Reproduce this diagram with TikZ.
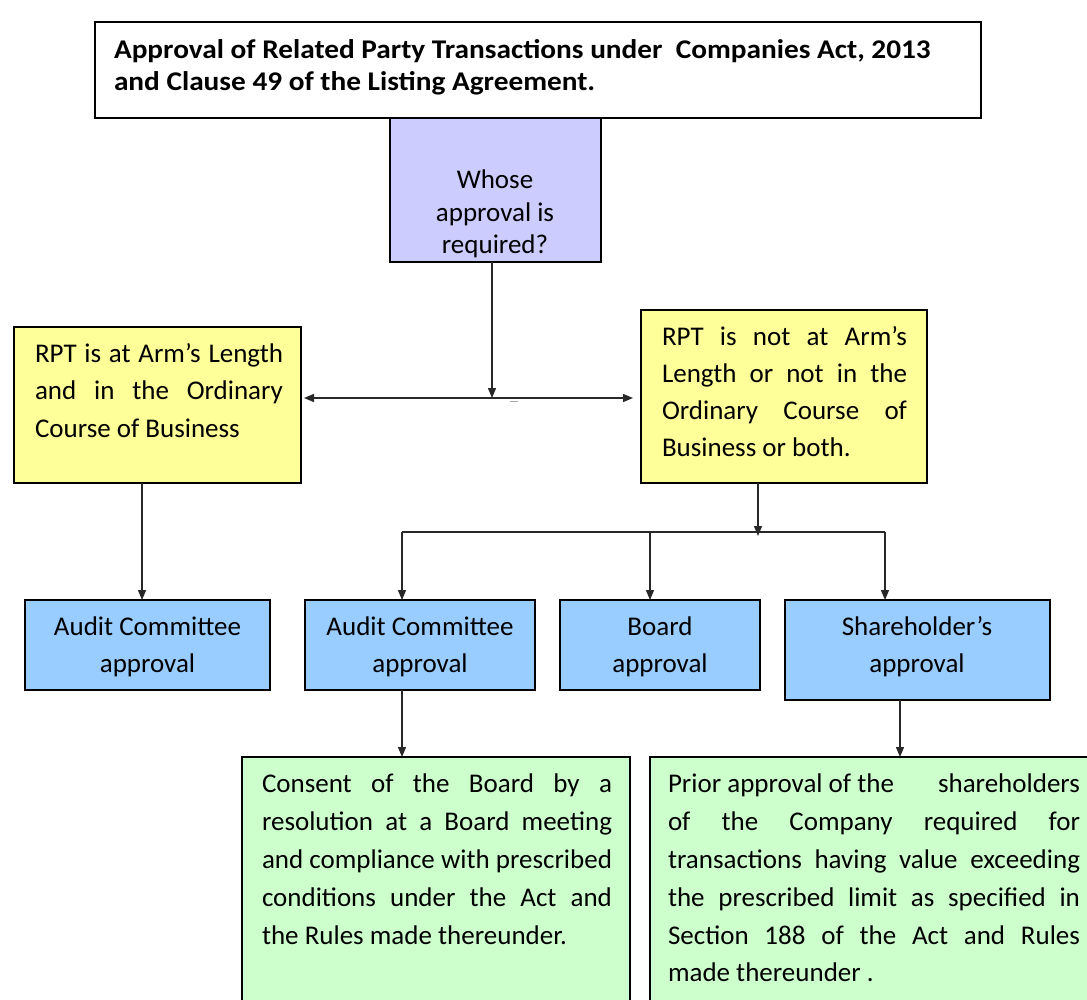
\documentclass[tikz,border=0pt]{standalone}
\usepackage{fontspec}
\setmainfont{Carlito}
\newfontfamily\titlefont[FakeStretch=1.085]{Carlito}
\usetikzlibrary{arrows.meta}

\definecolor{purplefill}{RGB}{204,204,255}
\definecolor{yellowfill}{RGB}{255,255,153}
\definecolor{bluefill}{RGB}{153,204,255}
\definecolor{greenfill}{RGB}{204,255,204}
\definecolor{linegray}{RGB}{40,40,40}

\newcommand{\jrow}[2]{\hbox to #1{#2}}

\tikzset{
  box/.style={draw=black, line width=1.5pt, inner sep=0pt, outer sep=0pt, rectangle, anchor=north west},
  conn/.style={draw=linegray, line width=1.3pt, -{Triangle[length=10pt,width=8pt]}},
  plainline/.style={draw=linegray, line width=1.3pt},
  txt/.style={inner sep=0pt, outer sep=0pt, anchor=north west, align=left},
  ctxt/.style={inner sep=0pt, outer sep=0pt, anchor=north, align=center},
}

\begin{document}
\begin{tikzpicture}[x=1pt,y=-1pt]
\clip (0,0) rectangle (1087,1000);
\fill[white] (0,0) rectangle (1087,1000);

% boxes
\node[box, fill=white, minimum width=886pt, minimum height=96pt] (title) at (95,22) {};
\node[box, fill=purplefill, minimum width=211pt, minimum height=144pt] (who) at (390,118) {};
\node[box, fill=yellowfill, minimum width=287pt, minimum height=156pt] (yl) at (14,327) {};
\node[box, fill=yellowfill, minimum width=286pt, minimum height=173pt] (yr) at (641,310) {};
\node[box, fill=bluefill, minimum width=245pt, minimum height=90pt] (b1) at (25,600) {};
\node[box, fill=bluefill, minimum width=230pt, minimum height=90pt] (b2) at (305,600) {};
\node[box, fill=bluefill, minimum width=200pt, minimum height=90pt] (b3) at (560,600) {};
\node[box, fill=bluefill, minimum width=265pt, minimum height=100pt] (b4) at (785,600) {};
\node[box, fill=greenfill, minimum width=388pt, minimum height=260pt] (g1) at (242,757) {};
\node[box, fill=greenfill, minimum width=460pt, minimum height=260pt] (g2) at (650,757) {};

% texts
\node[txt, font=\titlefont\bfseries\fontsize{27}{32}\selectfont] (titletext) at (114,36.6)
  {\strut Approval of Related Party Transactions under \ Companies Act, 2013\\
   and Clause 49 of the Listing Agreement.};
\node[ctxt, font=\fontsize{27}{32.5}\selectfont] (whotext) at (495,166)
  {\strut Whose\\approval is\\required?};
\node[txt, font=\fontsize{27}{37.5}\selectfont] (yltext) at (35,336)
  {\strut\jrow{248pt}{RPT is at Arm’s Length}\\
   \jrow{248pt}{and in the Ordinary}\\
   Course of Business};
\node[txt, font=\fontsize{27}{37}\selectfont] (yrtext) at (662,320)
  {\strut\jrow{245pt}{RPT is not at Arm’s}\\
   \jrow{245pt}{Length or not in the}\\
   \jrow{245pt}{Ordinary Course of}\\
   Business or both.};
\node[ctxt, font=\fontsize{27}{37}\selectfont] (b1text) at (147.5,609.1)
  {\strut Audit Committee\\approval};
\node[ctxt, font=\fontsize{27}{37}\selectfont] (b2text) at (420,609.1)
  {\strut Audit Committee\\approval};
\node[ctxt, font=\fontsize{27}{37}\selectfont] (b3text) at (660,609.1)
  {\strut Board\\approval};
\node[ctxt, font=\fontsize{27}{37}\selectfont] (b4text) at (917,609.1)
  {\strut Shareholder’s\\approval};
\node[txt, font=\fontsize{27}{37.8}\selectfont] (g1text) at (262,766.5)
  {\strut\jrow{350pt}{Consent of the Board by a}\\
   \jrow{350pt}{resolution at a Board meeting}\\
   \jrow{350pt}{and compliance with prescribed}\\
   \jrow{350pt}{conditions under the Act and}\\
   the Rules made thereunder.};
\node[txt, font=\fontsize{27}{37.8}\selectfont] (g2text) at (668,766.5)
  {\strut\jrow{412pt}{Prior approval of the\hfill shareholders}\\
   \jrow{412pt}{of the Company required for}\\
   \jrow{412pt}{transactions having value exceeding}\\
   \jrow{412pt}{the prescribed limit as specified in}\\
   \jrow{412pt}{Section 188 of the Act and Rules}\\
   made thereunder .};

% connectors
\coordinate (j) at (492,398);
\coordinate (k) at (758,532);
\coordinate (busL) at (402,532);
\coordinate (busM) at (650,532);
\coordinate (busR) at (885,532);

\draw[conn] (who.south -| j) -- (j);
\draw[plainline, {Triangle[length=10pt,width=8pt]}-{Triangle[length=10pt,width=8pt]}]
  ([xshift=3pt]yl.east |- j) -- ([xshift=-8pt]yr.west |- j);
\draw[draw=gray!70, line width=1pt] (510,401) -- (518,401);
\draw[conn] (yl.south -| 142,0) -- (b1.north -| 142,0);
\draw[conn] (yr.south -| k) -- ([yshift=-4pt]k);
\draw[draw=linegray, line width=2pt] (busL) -- (busR);
\draw[conn] (busL) -- (busL |- b2.north);
\draw[conn] (busM) -- (busM |- b3.north);
\draw[conn] (busR) -- (busR |- b4.north);
\draw[conn] (b2.south -| busL) -- (g1.north -| busL);
\draw[conn] (b4.south -| 900,0) -- (g2.north -| 900,0);
\end{tikzpicture}
\end{document}
